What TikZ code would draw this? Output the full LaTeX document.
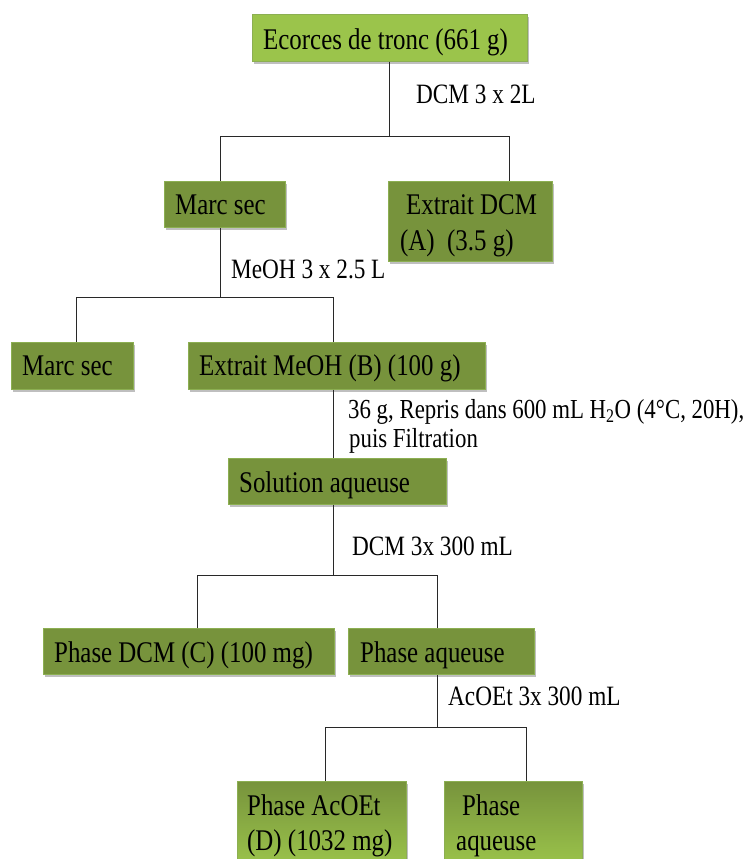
\documentclass[tikz,border=0pt]{standalone}
\usepackage{fontspec}
\setmainfont{Liberation Serif}[FakeStretch=0.83]
\usetikzlibrary{shadows}
\definecolor{darkgr}{RGB}{119,147,60}
\definecolor{lightgr}{RGB}{155,196,75}
\definecolor{edgegr}{RGB}{140,175,82}
\definecolor{linec}{RGB}{40,40,40}
\begin{document}
\begin{tikzpicture}[x=1pt,y=-1pt,
  boxbase/.style={draw=edgegr, line width=0.6pt, rectangle, inner sep=0pt, anchor=north west,
    drop shadow={shadow xshift=1.2pt, shadow yshift=-2.5pt, fill=black, opacity=0.25}},
  darkbox/.style={boxbase, fill=darkgr},
  lightbox/.style={boxbase, fill=lightgr},
  gradbox/.style={boxbase, top color=darkgr, middle color=darkgr, bottom color=lightgr},
  boxtext/.style={anchor=base west, inner sep=0pt, font=\fontsize{30}{36}\selectfont},
  lbltext/.style={anchor=base west, inner sep=0pt, font=\fontsize{28}{34}\selectfont},
  smalltext/.style={anchor=base west, inner sep=0pt, font=\fontsize{27.5}{33}\selectfont},
  conn/.style={draw=linec, line width=0.9pt}
]
\useasboundingbox (0,0) rectangle (747,859);
\clip (0,0) rectangle (747,859);

% boxes
\node[lightbox, minimum width=275pt, minimum height=47pt] (top) at (252,14) {};
\node[darkbox, minimum width=121pt, minimum height=46pt] (marc1) at (164,181) {};
\node[darkbox, minimum width=164pt, minimum height=80pt] (dcmA) at (388,181) {};
\node[darkbox, minimum width=122pt, minimum height=47pt] (marc2) at (11,342) {};
\node[darkbox, minimum width=297pt, minimum height=47pt] (meoh) at (188,342) {};
\node[darkbox, minimum width=218pt, minimum height=46pt] (sol) at (228,458) {};
\node[darkbox, minimum width=291pt, minimum height=46pt] (phC) at (43,628) {};
\node[darkbox, minimum width=186pt, minimum height=46pt] (phAq) at (348,628) {};
\node[gradbox, minimum width=169pt, minimum height=85pt] (phD) at (237,781) {};
\node[gradbox, minimum width=138pt, minimum height=85pt] (phAq2) at (444,781) {};

% junctions
\coordinate (j1L) at (220,136);
\coordinate (j1R) at (509,136);
\coordinate (j2) at (220,297);
\coordinate (j2L) at (76,297);
\coordinate (j2R) at (333,297);
\coordinate (j3) at (333,575);
\coordinate (j3L) at (197,575);
\coordinate (j3R) at (437,575);
\coordinate (j4) at (437,727);
\coordinate (j4L) at (325,727);
\coordinate (j4R) at (526,727);

% connectors
\draw[conn] (top.south) -- (top.south |- j1L);
\draw[conn] (j1L) -- (j1R);
\draw[conn] (j1L) -- (j1L |- marc1.north);
\draw[conn] (j1R) -- (j1R |- dcmA.north);

\draw[conn] (marc1.south -| j2) -- (j2);
\draw[conn] (j2L) -- (j2R);
\draw[conn] (j2L) -- (j2L |- marc2.north);
\draw[conn] (j2R) -- (j2R |- meoh.north);

\draw[conn] (meoh.south -| j2R) -- (j2R |- sol.north);

\draw[conn] (sol.south -| j3) -- (j3);
\draw[conn] (j3L) -- (j3R);
\draw[conn] (j3L) -- (j3L |- phC.north);
\draw[conn] (j3R) -- (j3R |- phAq.north);

\draw[conn] (phAq.south -| j4) -- (j4);
\draw[conn] (j4L) -- (j4R);
\draw[conn] (j4L) -- (j4L |- phD.north);
\draw[conn] (j4R) -- (j4R |- phAq2.north);

% box texts
\node[boxtext] (tTop) at (263,49) {Ecorces de tronc (661 g)};
\node[boxtext] (tMarc1) at (175,214) {Marc sec};
\node[boxtext] (tDcmA1) at (406,214) {Extrait DCM};
\node[boxtext] (tDcmA2) at (400,250) {(A)\ \ (3.5 g)};
\node[boxtext] (tMarc2) at (22,375) {Marc sec};
\node[boxtext] (tMeoh) at (199,375) {Extrait MeOH (B) (100 g)};
\node[boxtext] (tSol) at (239,492) {Solution aqueuse};
\node[boxtext] (tPhC) at (54,662) {Phase DCM (C) (100 mg)};
\node[boxtext] (tPhAq) at (360,662) {Phase aqueuse};
\node[boxtext] (tPhD1) at (247,815) {Phase AcOEt};
\node[boxtext] (tPhD2) at (247,850) {(D) (1032 mg)};
\node[boxtext] (tPhAq2a) at (462,815) {Phase};
\node[boxtext] (tPhAq2b) at (456,850) {aqueuse};

% step labels
\node[lbltext] (l1) at (416,103) {DCM 3 x 2L};
\node[lbltext] (l2) at (231,278) {MeOH 3 x 2.5 L};
\node[smalltext] (l3a) at (348,418) {36 g, Repris dans 600 mL H\textsubscript{2}O (4°C, 20H),};
\node[smalltext] (l3b) at (349,447) {puis Filtration};
\node[lbltext] (l4) at (352,555) {DCM 3x 300 mL};
\node[lbltext] (l5) at (448,705) {AcOEt 3x 300 mL};
\end{tikzpicture}
\end{document}
